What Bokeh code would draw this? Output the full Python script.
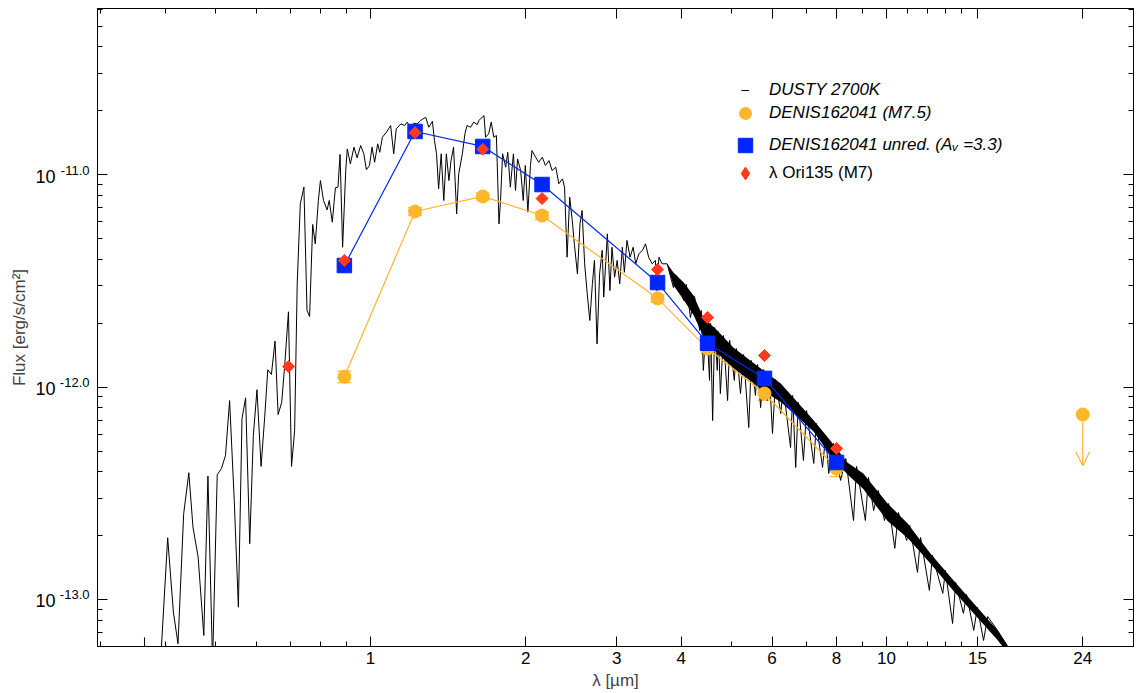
import numpy as np
from bokeh.plotting import figure
from bokeh.models import (ColumnDataSource, FixedTicker, LogAxis, Legend, LegendItem,
                          Whisker, TeeHead, Arrow, OpenHead, BasicTickFormatter)
from bokeh.embed import file_html
from bokeh.resources import INLINE

# ---------------- data ----------------
# DUSTY 2700K model spectrum (log10 of wavelength in um, log10 of flux)
spec_loglam = [
    -0.438, -0.436, -0.407, -0.405, -0.393, -0.382, -0.373, -0.362, -0.352, -0.344, -0.334, -0.323,
    -0.315, -0.306, -0.297, -0.289, -0.281, -0.273, -0.264, -0.256, -0.249, -0.242, -0.234, -0.227,
    -0.220, -0.212, -0.205, -0.199, -0.192, -0.185, -0.179, -0.172, -0.166, -0.159, -0.153, -0.147,
    -0.142, -0.136, -0.129, -0.123, -0.118, -0.112, -0.107, -0.101, -0.097, -0.091, -0.084, -0.080,
    -0.074, -0.068, -0.063, -0.059, -0.054,
    -0.048, -0.045, -0.039, -0.032, -0.026, -0.019, -0.013, -0.008, -0.002, 0.003, 0.008, 0.014,
    0.018, 0.023, 0.031, 0.039, 0.045, 0.050, 0.059, 0.066, 0.071, 0.079, 0.084, 0.091, 0.097,
    0.107, 0.113, 0.120, 0.124, 0.128, 0.132, 0.137, 0.142, 0.147, 0.152, 0.156, 0.161, 0.167,
    0.171, 0.178, 0.183, 0.187, 0.194, 0.200, 0.207,
    0.210, 0.220, 0.223, 0.229, 0.234, 0.239, 0.244, 0.249, 0.252, 0.256, 0.262, 0.266, 0.271,
    0.277, 0.281, 0.285, 0.291, 0.296, 0.300, 0.305, 0.310, 0.313, 0.320, 0.326, 0.333, 0.339,
    0.346, 0.352, 0.359, 0.365, 0.372, 0.376, 0.381, 0.386, 0.391, 0.395, 0.401, 0.406, 0.410,
    0.415, 0.420, 0.425, 0.430, 0.434, 0.439, 0.444, 0.449, 0.452, 0.459, 0.464, 0.468, 0.473,
    0.478, 0.483, 0.488, 0.492, 0.497, 0.503, 0.509, 0.514, 0.520, 0.527, 0.533, 0.539, 0.546,
    0.552, 0.555, 0.559, 0.565, 0.575,
    0.587, 0.593, 0.607, 0.612, 0.620, 0.628, 0.638, 0.641, 0.645, 0.651, 0.657, 0.659, 0.663,
    0.667, 0.672, 0.674, 0.678, 0.684, 0.692, 0.696, 0.705, 0.709, 0.717, 0.723, 0.733, 0.738,
    0.746, 0.750, 0.756, 0.762, 0.769, 0.773, 0.779, 0.785, 0.795, 0.800, 0.814, 0.818, 0.824,
    0.829, 0.839, 0.845, 0.859, 0.864, 0.876, 0.882, 0.888, 0.897, 0.911, 0.921, 0.936, 0.942,
    0.959, 0.965, 0.975, 0.984, 0.996, 1.004, 1.016, 1.023, 1.039, 1.045, 1.060, 1.066, 1.083,
    1.089, 1.109, 1.114, 1.128, 1.134, 1.149, 1.155, 1.169, 1.176, 1.188, 1.196, 1.215, 1.240,
]
spec_logflux = [
    -13.178, -13.475, -13.475, -13.219, -12.709, -13.059, -13.208, -12.596, -12.403, -12.659, -12.800, -13.169,
    -12.419, -13.300, -12.412, -12.384, -12.322, -12.063, -12.533, -13.036, -12.149, -12.050, -12.737, -12.227,
    -12.012, -12.373, -12.141, -11.918, -11.940, -11.783, -12.129, -12.071, -11.890, -11.645, -12.373, -12.204,
    -11.513, -11.137, -11.058, -11.639, -11.667, -11.234, -11.325, -11.121, -11.027, -11.121, -11.165, -11.121,
    -11.223, -11.061, -11.058, -10.904, -11.341,
    -10.980, -10.878, -10.948, -10.870, -10.920, -10.862, -10.901, -10.976, -10.956, -10.870, -10.941, -10.854,
    -10.894, -10.823, -10.799, -10.768, -10.901, -10.783, -10.760, -10.768, -10.752, -10.783, -10.757, -10.760,
    -10.744, -10.729, -10.776, -10.748, -10.839, -10.901, -11.066, -10.901, -11.121, -10.901, -11.027, -10.933,
    -10.870, -11.184, -10.995, -10.901, -10.807, -10.768, -10.776, -10.752, -10.763,
    -10.744, -10.721, -10.823, -10.807, -10.752, -10.823, -10.815, -11.231, -11.121, -10.901, -10.964, -10.894,
    -11.058, -10.901, -11.074, -10.925, -10.980, -11.121, -10.956, -11.176, -10.956, -10.886, -10.917, -10.941,
    -10.917, -10.956, -10.933, -10.980, -10.964, -11.042, -11.019, -11.058, -11.388, -11.105, -11.215, -11.325,
    -11.466, -11.231, -11.168, -11.419, -11.560, -11.686, -11.513, -11.403, -11.796, -11.466, -11.356, -11.576,
    -11.278, -11.545, -11.341, -11.482, -11.403, -11.513, -11.341, -11.459, -11.309, -11.388, -11.341, -11.419,
    -11.372, -11.356, -11.325, -11.388, -11.419, -11.403, -11.545, -11.388, -11.419, -11.419,
    -11.531, -11.474, -11.592, -11.516, -11.672, -11.573, -11.733, -11.639, -11.921, -11.686, -11.968, -11.700,
    -12.157, -11.719, -11.921, -11.738, -12.030, -11.757, -12.063, -11.780, -11.968, -11.818, -12.030, -11.846,
    -12.190, -11.874, -12.039, -11.893, -12.096, -11.917, -12.063, -11.940, -12.218, -11.964, -12.124, -12.001,
    -12.284, -12.039, -12.378, -12.072, -12.345, -12.110, -12.359, -12.171, -12.378, -12.227, -12.406, -12.265,
    -12.439, -12.336, -12.628, -12.373, -12.628, -12.425, -12.581, -12.486, -12.628, -12.548, -12.759, -12.590,
    -12.722, -12.651, -12.872, -12.708, -12.957, -12.792, -12.971, -12.863, -13.113, -12.920, -13.065, -12.976,
    -13.145, -13.037, -13.193, -13.080, -13.145, -13.240,
]
# unresolved (dense) part of the model spectrum: upper / lower envelope
band_loglam = [0.575, 0.587, 0.607, 0.626, 0.645, 0.672, 0.703, 0.736, 0.769, 0.795, 0.828,
               0.859, 0.891, 0.924, 0.955, 1.002, 1.041, 1.085, 1.130, 1.176, 1.215, 1.240]
band_logupper = [-11.419, -11.460, -11.507, -11.568, -11.672, -11.733, -11.813, -11.874, -11.936,
                 -11.983, -12.072, -12.157, -12.251, -12.355, -12.406, -12.548, -12.642, -12.783,
                 -12.910, -13.037, -13.145, -13.240]
band_loglower = [-11.425, -11.520, -11.590, -11.660, -11.760, -11.840, -11.910, -11.970, -12.030,
                 -12.070, -12.140, -12.210, -12.320, -12.410, -12.480, -12.630, -12.710, -12.830,
                 -12.960, -13.085, -13.190, -13.270]

# photometry (um, erg/s/cm2)
phot_lam = [0.89, 1.22, 1.65, 2.15, 3.6, 4.5, 5.8, 8.0]
denis_flux = [1.12e-12, 6.72e-12, 7.91e-12, 6.43e-12, 2.62e-12, 1.52e-12, 9.34e-13, 4.14e-13]
denis_err = [0.07e-12, 0.28e-12, 0.30e-12, 0.27e-12, 0.11e-12, 0.07e-12, 0.065e-12, 0.035e-12]
unred_flux = [3.74e-12, 1.60e-11, 1.36e-11, 9.0e-12, 3.11e-12, 1.61e-12, 1.10e-12, 4.42e-13]
ori_lam = [0.694, 0.89, 1.22, 1.65, 2.15, 3.6, 4.5, 5.8, 8.0]
ori_flux = [1.25e-12, 3.95e-12, 1.58e-11, 1.32e-11, 7.73e-12, 3.58e-12, 2.13e-12, 1.41e-12, 5.14e-13]
# MIPS 24 um upper limit
mips_lam = [24.0]
mips_flux = [7.44e-13]
mips_arrow_to = [4.27e-13]

x_ticks = [1, 2, 3, 4, 6, 8, 10, 15, 24]
x_tick_labels = ["1", "2", "3", "4", "6", "8", "10", "15", "24"]
x_minor = [0.3, 0.4, 0.5, 0.6, 0.7, 0.8, 0.9, 5, 7, 9, 11, 12, 13, 14]
y_ticks = [1e-13, 1e-12, 1e-11]
y_tick_base = ["10", "10", "10"]
y_tick_exponents = ["-13.0", "-12.0", "-11.0"]
y_minor = [k * 10.0 ** e for e in (-14, -13, -12, -11) for k in range(2, 10)]

legend_labels = ["DUSTY 2700K", "DENIS162041 (M7.5)", "DENIS162041 unred. (A\u1d65 =3.3)", "\u03bb Ori135 (M7)"]

ORANGE = "#FFB52C"
BLUE = "#0026FF"
RED = "#FF3A1E"
FONT = "Liberation Sans"

# ---------------- figure ----------------
X0, X1 = 0.2958, 30.1
Y0, Y1 = 6.01e-14, 6.07e-11
p = figure(width=1136, height=693, x_axis_type="log", y_axis_type="log",
           x_range=(X0, X1), y_range=(Y0, Y1),
           output_backend="svg", toolbar_location=None,
           min_border_left=97, min_border_right=3, min_border_top=8, min_border_bottom=47)
p.xgrid.visible = False
p.ygrid.visible = False
p.outline_line_color = "black"
p.outline_line_width = 1
p.background_fill_color = "white"
p.border_fill_color = "white"

xticker = FixedTicker(ticks=x_ticks, minor_ticks=x_minor)
yticker = FixedTicker(ticks=y_ticks, minor_ticks=y_minor)

def style_axis(ax):
    ax.major_tick_in = 10
    ax.major_tick_out = 0
    ax.minor_tick_in = 5
    ax.minor_tick_out = 0
    ax.major_tick_line_color = "black"
    ax.minor_tick_line_color = "black"
    ax.axis_line_color = "black"

def label_only_axis(ax):
    ax.major_tick_line_color = None
    ax.minor_tick_line_color = None
    ax.axis_line_color = None
    ax.major_tick_out = 0
    ax.major_tick_in = 0
    ax.minor_tick_out = 0
    ax.minor_tick_in = 0

xa = p.xaxis[0]
xa.ticker = xticker
xa.formatter = BasicTickFormatter()
xa.major_label_overrides = {t: l for t, l in zip(x_ticks, x_tick_labels)}
style_axis(xa)
xa.major_label_text_font = FONT
xa.major_label_text_font_size = "17px"
xa.major_label_text_color = "black"
xa.major_label_standoff = 5
xa.axis_label = "\u03bb [\u00b5m]"
xa.axis_label_text_font = FONT
xa.axis_label_text_font_size = "17px"
xa.axis_label_text_font_style = "normal"
xa.axis_label_standoff = 4

# innermost left axis: only the ticks
ya = p.yaxis[0]
ya.ticker = yticker
ya.major_label_overrides = {t: "" for t in y_ticks}
ya.major_label_text_font_size = "0px"
ya.major_label_standoff = 0
style_axis(ya)

# superscript part of the y tick labels ("-11.0"), raised a little above the tick
exp_ticker = FixedTicker(ticks=[t * 10 ** (4.8 / 212.4) for t in y_ticks], minor_ticks=[])
ax_exp = LogAxis(ticker=exp_ticker,
                 major_label_overrides={t * 10 ** (4.8 / 212.4): e for t, e in zip(y_ticks, y_tick_exponents)},
                 major_label_standoff=8, major_label_text_font=FONT,
                 major_label_text_font_size="13px", major_label_text_color="black")
label_only_axis(ax_exp)
p.add_layout(ax_exp, "left")

# base part of the y tick labels ("10") plus the axis title
base_ticker = FixedTicker(ticks=[t * 10 ** (-1.2 / 212.4) for t in y_ticks], minor_ticks=[])
ax_base = LogAxis(ticker=base_ticker,
                  major_label_overrides={t * 10 ** (-1.2 / 212.4): b for t, b in zip(y_ticks, y_tick_base)},
                  major_label_standoff=1, major_label_text_font=FONT,
                  major_label_text_font_size="18px", major_label_text_color="black",
                  axis_label="Flux [erg/s/cm\u00b2]", axis_label_text_font=FONT,
                  axis_label_text_font_size="17px", axis_label_text_font_style="normal",
                  axis_label_standoff=3)
label_only_axis(ax_base)
p.add_layout(ax_base, "left")

top = LogAxis(ticker=xticker, major_label_text_font_size="0px", major_label_standoff=0,
              major_label_overrides={t: "" for t in x_ticks})
style_axis(top)
p.add_layout(top, "above")
right = LogAxis(ticker=yticker, major_label_text_font_size="0px", major_label_standoff=0,
                major_label_overrides={t: "" for t in y_ticks})
style_axis(right)
p.add_layout(right, "right")

# ---------------- glyphs ----------------
spec_lam = [10.0 ** v for v in spec_loglam]
spec_f = [10.0 ** v for v in spec_logflux]
r_spec = p.line(spec_lam, spec_f, line_color="black", line_width=1)
p.varea(x=[10.0 ** v for v in band_loglam], y1=[10.0 ** v for v in band_loglower],
        y2=[10.0 ** v for v in band_logupper], fill_color="black")

p.line(phot_lam, denis_flux, line_color=ORANGE, line_width=1.2)
p.line(phot_lam, unred_flux, line_color=BLUE, line_width=1.2)

r_denis = p.scatter(phot_lam + mips_lam, denis_flux + mips_flux, marker="circle", size=13,
                    fill_color=ORANGE, line_color=ORANGE)
r_unred = p.scatter(phot_lam, unred_flux, marker="square", size=14.5, fill_color=BLUE, line_color=BLUE)

src_err = ColumnDataSource(dict(x=phot_lam,
                                lo=[f - e for f, e in zip(denis_flux, denis_err)],
                                hi=[f + e for f, e in zip(denis_flux, denis_err)]))
p.add_layout(Whisker(source=src_err, base="x", lower="lo", upper="hi", dimension="height",
                     line_color=ORANGE, line_width=1.2,
                     lower_head=TeeHead(size=14, line_color=ORANGE, line_width=1.2),
                     upper_head=TeeHead(size=14, line_color=ORANGE, line_width=1.2)))

p.scatter(ori_lam, ori_flux, marker="square", angle=np.pi / 4, size=8.5,
          fill_color=RED, line_color=RED)
# hidden twin of the diamonds, used only for the legend marker (legend markers are not rotated)
r_ori_leg = p.scatter(ori_lam, ori_flux, marker="diamond", fill_color=RED, line_color=RED,
                      visible=False)

p.add_layout(Arrow(x_start=mips_lam[0], y_start=mips_flux[0], x_end=mips_lam[0], y_end=mips_arrow_to[0],
                   line_color=ORANGE, line_width=1.2,
                   end=OpenHead(size=14, line_color=ORANGE, line_width=1.2)))

# ---------------- legend ----------------
def make_legend(label, rend, loc, gw, gh, standoff, style):
    lg = Legend(items=[LegendItem(label=label, renderers=[rend])], location=loc,
                glyph_width=gw, glyph_height=gh, label_standoff=standoff, label_height=20,
                padding=0, margin=0, spacing=0,
                border_line_alpha=0, background_fill_alpha=0, inactive_fill_alpha=0,
                label_text_font=FONT, label_text_font_size="17px",
                label_text_font_style=style, label_text_color="black")
    p.add_layout(lg, "center")

make_legend(legend_labels[0], r_spec, (644, 546), 8, 20, 20, "italic")
make_legend(legend_labels[1], r_denis, (633, 518), 30, 30, 9, "italic")
make_legend(legend_labels[2], r_unred, (630, 483), 36, 36, 6, "italic")
make_legend(legend_labels[3], r_ori_leg, (632, 457), 32, 32, 8, "normal")

open("out.html", "w").write(file_html(p, INLINE))
